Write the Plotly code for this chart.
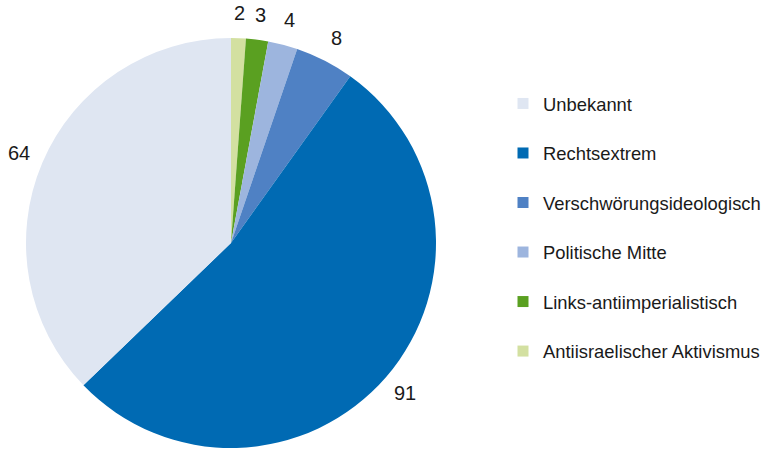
import math
import plotly.graph_objects as go

categories = ["Unbekannt", "Rechtsextrem", "Verschwörungsideologisch",
              "Politische Mitte", "Links-antiimperialistisch", "Antiisraelischer Aktivismus"]
values = [64, 91, 8, 4, 3, 2]
colors = ["#dfe6f2", "#006ab3", "#4f81c4", "#9db5de", "#5aa021", "#d3e0a1"]

W, H = 766, 450
cx, cy, r = 231, 243, 205
font = "Liberation Sans, Arial, sans-serif"

# pie drawn clockwise from 12 o'clock starting with the last category
pie_labels = categories[::-1]
pie_values = values[::-1]
pie_colors = colors[::-1]

fig = go.Figure()
fig.add_trace(go.Pie(
    labels=pie_labels, values=pie_values, sort=False, direction="clockwise", rotation=0,
    marker=dict(colors=pie_colors, line=dict(width=0)),
    textinfo="none", hoverinfo="label+value", showlegend=False,
    domain=dict(x=[(cx - r) / W, (cx + r) / W], y=[(H - cy - r) / H, (H - cy + r) / H]),
))

# value labels outside the slices, placed at each slice's mid-angle (clockwise from top)
total = sum(pie_values)
cum = 0
rl = r + 25
for v in pie_values:
    mid = (cum + v / 2) / total * 2 * math.pi
    cum += v
    px = cx + rl * math.sin(mid)
    py = cy - rl * math.cos(mid)
    fig.add_annotation(x=px / W, y=1 - py / H, xref="paper", yref="paper",
                       text=str(v), showarrow=False, xanchor="center", yanchor="middle",
                       font=dict(family=font, size=20, color="#1a1a1a"))

# legend entries
for i, (c, col) in enumerate(zip(categories, colors)):
    fig.add_trace(go.Scatter(x=[None], y=[None], mode="markers", name=c,
                             legendgroup=f"g{i}",
                             marker=dict(symbol="square", size=11, color=col)))

fig.update_layout(
    width=W, height=H, margin=dict(l=0, r=0, t=0, b=0),
    paper_bgcolor="white", plot_bgcolor="white",
    xaxis=dict(visible=False), yaxis=dict(visible=False),
    font=dict(family=font, size=18, color="#1a1a1a"),
    legend=dict(x=503 / W, y=1 - 85 / H, xanchor="left", yanchor="top",
                traceorder="grouped", tracegroupgap=22.6,
                font=dict(family=font, size=18.4, color="#1a1a1a"),
                bgcolor="rgba(0,0,0,0)", itemclick=False),
)
fig.write_html("out.html", config={"displayModeBar": False},
               post_script="document.body.style.margin='0';")
